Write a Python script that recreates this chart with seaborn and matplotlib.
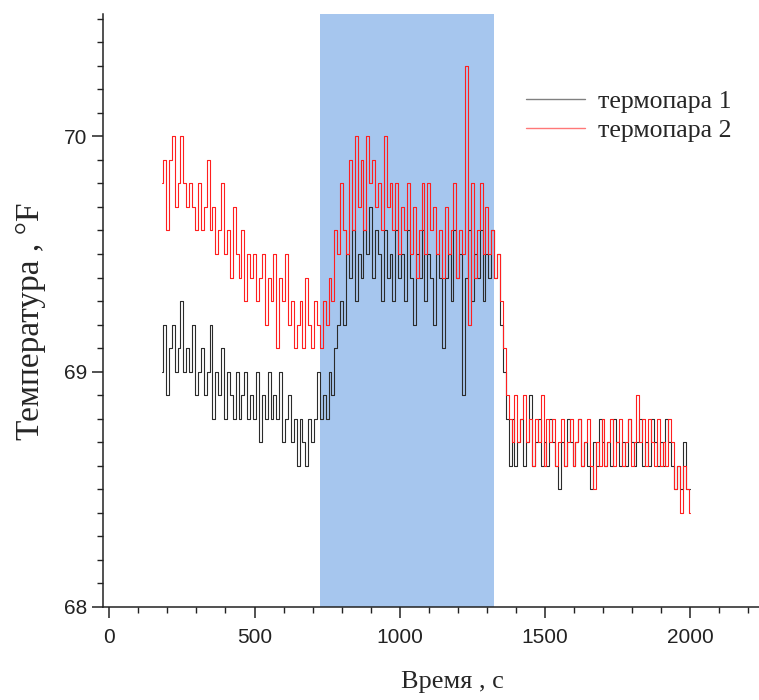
#!/usr/bin/env python3

import numpy as np
import pandas as pd
import matplotlib
matplotlib.use('Agg')
import matplotlib.pyplot as plt
import seaborn as sns
from matplotlib.ticker import MultipleLocator

SET_DPI = 100
FIGSIZE = (7.59, 7.0)

# time samples, s (every 10 s from 180 to 2000)
TIME = list(range(180, 2001, 10))

# termopara 1 (black), one row = 100 s
T1 = [
    69.0, 69.2, 68.9, 69.1, 69.2, 69.0, 69.1, 69.3, 69.0, 69.1,   # 180-270
    69.0, 69.2, 68.9, 69.0, 69.1, 68.9, 69.0, 69.2, 68.8, 69.0,   # 280-370
    68.9, 69.1, 68.8, 69.0, 68.9, 68.8, 69.0, 68.8, 68.9, 69.0,   # 380-470
    68.8, 68.9, 68.8, 69.0, 68.7, 68.9, 68.8, 69.0, 68.8, 68.9,   # 480-570
    68.8, 69.0, 68.7, 68.8, 68.9, 68.7, 68.8, 68.6, 68.8, 68.7,   # 580-670
    68.6, 68.8, 68.7, 68.8, 69.0, 68.8, 68.9, 68.8, 69.0, 68.9,   # 680-770
    69.1, 69.2, 69.3, 69.2, 69.5, 69.4, 69.6, 69.3, 69.5, 69.4,   # 780-870
    69.6, 69.5, 69.7, 69.4, 69.6, 69.5, 69.3, 69.6, 69.4, 69.5,   # 880-970
    69.3, 69.6, 69.4, 69.5, 69.3, 69.6, 69.4, 69.2, 69.5, 69.4,   # 980-1070
    69.6, 69.3, 69.5, 69.4, 69.2, 69.5, 69.4, 69.1, 69.4, 69.5,   # 1080-1170
    69.3, 69.6, 69.4, 69.5, 68.9, 69.4, 69.6, 69.3, 69.5, 69.4,   # 1180-1270
    69.6, 69.3, 69.5, 69.4, 69.6, 69.4, 69.5, 69.2, 69.0, 68.8,   # 1280-1370
    68.6, 68.8, 68.6, 68.7, 68.8, 68.6, 68.7, 68.9, 68.6, 68.7,   # 1380-1470
    68.8, 68.6, 68.7, 68.6, 68.8, 68.7, 68.6, 68.5, 68.7, 68.6,   # 1480-1570
    68.8, 68.7, 68.6, 68.7, 68.8, 68.6, 68.7, 68.6, 68.5, 68.7,   # 1580-1670
    68.6, 68.8, 68.7, 68.6, 68.7, 68.6, 68.8, 68.7, 68.6, 68.7,   # 1680-1770
    68.6, 68.8, 68.7, 68.6, 68.7, 68.8, 68.6, 68.7, 68.6, 68.8,   # 1780-1870
    68.7, 68.6, 68.7, 68.6, 68.8, 68.7, 68.6, 68.5, 68.6, 68.5,   # 1880-1970
    68.7, 68.5, 68.5,                                             # 1980-2000
]

# termopara 2 (red)
T2 = [
    69.8, 69.9, 69.6, 69.9, 70.0, 69.7, 69.8, 70.0, 69.8, 69.7,   # 180-270
    69.8, 69.7, 69.6, 69.8, 69.6, 69.7, 69.9, 69.6, 69.7, 69.5,   # 280-370
    69.6, 69.8, 69.5, 69.6, 69.4, 69.7, 69.5, 69.4, 69.6, 69.3,   # 380-470
    69.5, 69.4, 69.5, 69.3, 69.4, 69.5, 69.2, 69.4, 69.3, 69.5,   # 480-570
    69.1, 69.4, 69.3, 69.5, 69.2, 69.3, 69.1, 69.2, 69.3, 69.1,   # 580-670
    69.4, 69.2, 69.1, 69.3, 69.2, 69.1, 69.3, 69.2, 69.4, 69.3,   # 680-770
    69.6, 69.5, 69.8, 69.6, 69.5, 69.9, 69.6, 70.0, 69.7, 69.9,   # 780-870
    69.6, 70.0, 69.8, 69.9, 69.7, 69.8, 69.6, 70.0, 69.7, 69.8,   # 880-970
    69.6, 69.8, 69.5, 69.7, 69.6, 69.8, 69.5, 69.7, 69.4, 69.6,   # 980-1070
    69.8, 69.5, 69.8, 69.6, 69.7, 69.5, 69.6, 69.4, 69.7, 69.5,   # 1080-1170
    69.6, 69.8, 69.4, 69.6, 69.5, 70.3, 69.2, 69.8, 69.4, 69.6,   # 1180-1270
    69.8, 69.5, 69.7, 69.5, 69.6, 69.4, 69.5, 69.3, 69.1, 68.9,   # 1280-1370
    68.8, 68.7, 68.9, 68.7, 68.8, 68.9, 68.7, 68.8, 68.6, 68.8,   # 1380-1470
    68.7, 68.9, 68.6, 68.8, 68.7, 68.8, 68.6, 68.7, 68.8, 68.6,   # 1480-1570
    68.7, 68.8, 68.6, 68.7, 68.8, 68.6, 68.7, 68.8, 68.6, 68.5,   # 1580-1670
    68.7, 68.6, 68.8, 68.6, 68.7, 68.8, 68.6, 68.7, 68.8, 68.6,   # 1680-1770
    68.7, 68.8, 68.6, 68.7, 68.9, 68.7, 68.8, 68.6, 68.8, 68.7,   # 1780-1870
    68.6, 68.8, 68.6, 68.7, 68.6, 68.8, 68.7, 68.5, 68.6, 68.4,   # 1880-1970
    68.6, 68.5, 68.4,                                             # 1980-2000
]

LABELS = ['термопара 1', 'термопара 2']
COLOURS = ['#2b2b2b', '#ff1f1f']
HEAT_START, HEAT_END = 725, 1325

sns.set_style('ticks')
plt.rcParams['font.family'] = ['Liberation Sans', 'DejaVu Sans']
plt.rcParams['xtick.direction'] = 'out'
plt.rcParams['ytick.direction'] = 'out'

data = pd.DataFrame({'t': TIME, LABELS[0]: T1, LABELS[1]: T2})

fig = plt.figure(figsize=FIGSIZE, dpi=SET_DPI)
ax = fig.add_axes([0.136, 0.133, 0.864, 0.847])

ax.axvspan(HEAT_START, HEAT_END, color='#a6c6ee', zorder=0, lw=0)

for lab, col in zip(LABELS, COLOURS):
    sns.lineplot(x='t', y=lab, data=data, ax=ax, color=col, lw=0.8,
                 drawstyle='steps-mid', label=lab, zorder=2)

ax.set_xlim(-21, 2237)
ax.set_ylim(68, 70.52)
ax.xaxis.set_major_locator(MultipleLocator(500))
ax.xaxis.set_minor_locator(MultipleLocator(100))
ax.yaxis.set_major_locator(MultipleLocator(1))
ax.yaxis.set_minor_locator(MultipleLocator(0.1))
ax.tick_params(which='major', length=8, width=1.1, labelsize=15, colors='#222222')
ax.tick_params(axis='x', which='major', pad=7)
ax.tick_params(which='minor', length=4, width=1.0, colors='#222222')
for s in ['top', 'right']:
    ax.spines[s].set_visible(False)
for s in ['left', 'bottom']:
    ax.spines[s].set_linewidth(1.1)
    ax.spines[s].set_color('#222222')

serif = ['Liberation Serif', 'DejaVu Serif']
ax.set_xlabel('Время , с', family=serif, fontsize=19)
ax.xaxis.set_label_coords(0.532, -0.108)
ax.set_ylabel('Температура , °F', family=serif, fontsize=24)
ax.yaxis.set_label_coords(-0.088, 0.482)

leg = ax.legend(loc='upper left', bbox_to_anchor=(0.61, 0.91), frameon=False,
                prop={'family': serif, 'size': 18.5}, handlelength=2.3,
                handletextpad=0.5, labelspacing=0.22)
for line in leg.get_lines():
    line.set_linewidth(1.0)
    line.set_alpha(0.6)

plt.savefig('out.png', dpi=SET_DPI)
plt.close('all')
